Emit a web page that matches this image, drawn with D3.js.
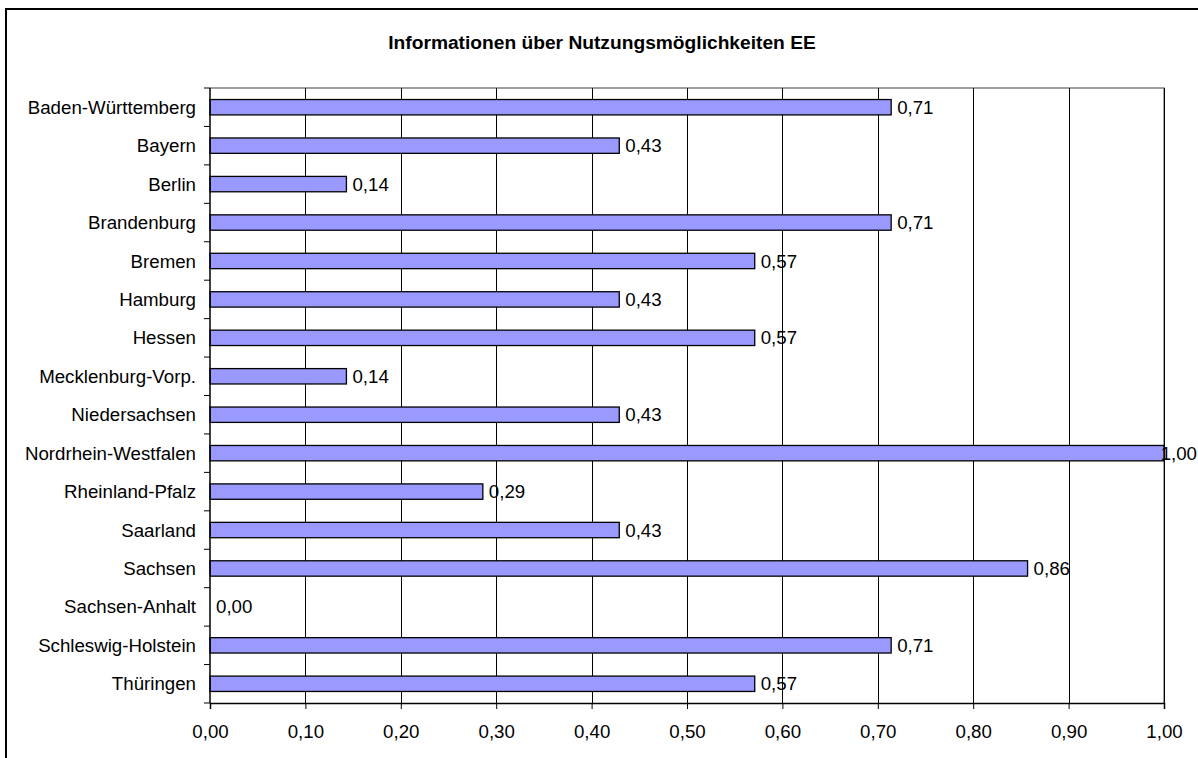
<!DOCTYPE html>
<html><head><meta charset="utf-8">
<script src="https://cdn.jsdelivr.net/npm/d3@7"></script>
<style>
html,body{margin:0;padding:0;background:#fff;}
svg text{font-family:"Liberation Sans",Arial,sans-serif;fill:#000;}
</style></head>
<body>
<svg id="chart" width="1198" height="758"></svg>
<script>
const title = "Informationen über Nutzungsmöglichkeiten EE";
const categories = ["Baden-Württemberg","Bayern","Berlin","Brandenburg","Bremen","Hamburg","Hessen","Mecklenburg-Vorp.","Niedersachsen","Nordrhein-Westfalen","Rheinland-Pfalz","Saarland","Sachsen","Sachsen-Anhalt","Schleswig-Holstein","Thüringen"];
const values = [0.714,0.429,0.143,0.714,0.571,0.429,0.571,0.143,0.429,1.0,0.286,0.429,0.857,0.0,0.714,0.571];
const xTicks = [0,0.1,0.2,0.3,0.4,0.5,0.6,0.7,0.8,0.9,1.0];

const FS = "18.7px";
const svg = d3.select("#chart");
const fmt = v => d3.format(".2f")(v).replace(".", ",");

// outer frame
svg.append("rect").attr("x",6).attr("y",9).attr("width",1250).attr("height",800)
  .attr("fill","none").attr("stroke","#000").attr("stroke-width",2);

svg.append("text").attr("x",602).attr("y",49).attr("text-anchor","middle")
  .attr("font-size","19.2px").attr("font-weight","bold").text(title);

const L=210, R=1164, T=88, B=703;
const x = d3.scaleLinear().domain([0,1]).range([L,R]);
const y = d3.scaleBand().domain(categories).range([T,B]).paddingInner(0.6).paddingOuter(0.3);
const yb = d3.scaleBand().domain(categories).range([T,B]);

// plot border (top/right)
svg.append("path").attr("d",`M${L},${T}H${R}V${B}`).attr("fill","none").attr("stroke","#808080").attr("stroke-width",1.5);

// gridlines
svg.append("g").selectAll("line").data(xTicks.slice(1)).join("line")
  .attr("x1",d=>Math.round(x(d))+0.5).attr("x2",d=>Math.round(x(d))+0.5)
  .attr("y1",T).attr("y2",B).attr("stroke","#000").attr("stroke-width",1);

// bars
svg.append("g").selectAll("rect").data(categories).join("rect")
  .attr("x",x(0)).attr("y",(d)=>y(d))
  .attr("width",(d,i)=>x(values[i])-x(0)).attr("height",y.bandwidth())
  .attr("fill","#9999FF").attr("stroke","#000").attr("stroke-width",1.3)
  .attr("display",(d,i)=>values[i]>0?null:"none");

// value labels (clamped to chart's right edge)
svg.append("g").selectAll("text").data(categories).join("text")
  .attr("y",d=>y(d)+y.bandwidth()/2)
  .attr("dy","0.35em").attr("font-size",FS).text((d,i)=>fmt(values[i]))
  .each(function(d,i){
    const w = this.getComputedTextLength();
    const px = Math.min(x(values[i])+6, 1197 - w);
    d3.select(this).attr("x", px);
  });

// x axis
const xAxis = svg.append("g").attr("transform",`translate(0,${B})`)
  .call(d3.axisBottom(x).tickValues(xTicks).tickFormat(fmt).tickSize(6).tickPadding(16));
xAxis.select(".domain").attr("stroke","#000").attr("stroke-width",1.5);
xAxis.selectAll(".tick line").attr("stroke","#000");
xAxis.selectAll("text").attr("font-size",FS).attr("font-family","Liberation Sans, Arial, sans-serif");

// y axis
const yAxis = svg.append("g").attr("transform",`translate(${L},0)`);
yAxis.append("line").attr("x1",0).attr("x2",0).attr("y1",T).attr("y2",B).attr("stroke","#000").attr("stroke-width",1.5);
const bounds = categories.map(c=>yb(c)).concat([B]);
yAxis.selectAll("line.t").data(bounds).join("line").attr("class","t")
  .attr("x1",-6).attr("x2",0).attr("y1",d=>d).attr("y2",d=>d).attr("stroke","#000");
yAxis.selectAll("text").data(categories).join("text")
  .attr("x",-14).attr("y",d=>yb(d)+yb.bandwidth()/2).attr("dy","0.35em")
  .attr("text-anchor","end").attr("font-size",FS).text(d=>d);
</script>
</body></html>
